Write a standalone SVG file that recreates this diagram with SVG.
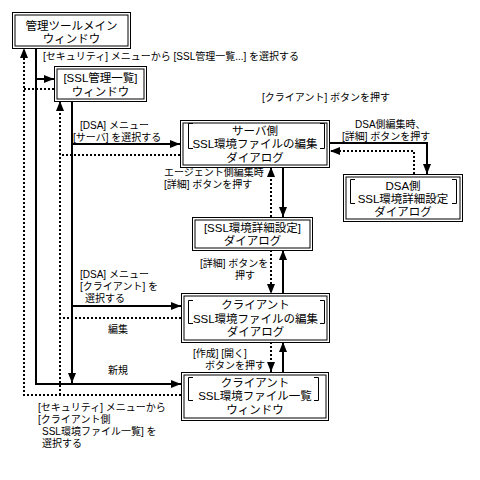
<svg xmlns="http://www.w3.org/2000/svg" width="480" height="480" viewBox="0 0 480 480">
<style>
.bx{fill:#fff;stroke:#000;stroke-width:1}
.bi{fill:none;stroke:#000;stroke-width:1}
.br{fill:none;stroke:#000;stroke-width:1}
.t{font-family:"Liberation Sans","Noto Sans CJK JP",sans-serif;font-size:11.5px;fill:#000;text-anchor:middle}
.l{font-family:"Liberation Sans","Noto Sans CJK JP",sans-serif;font-size:10px;fill:#000}
.s{fill:none;stroke:#000;stroke-width:2}
.d{fill:none;stroke:#000;stroke-width:2;stroke-dasharray:2 2}
</style>
<defs>
<marker id="ah" markerUnits="userSpaceOnUse" markerWidth="10" markerHeight="8" refX="10" refY="4" orient="auto">
<path d="M0,0 L10,4 L0,8 Z" fill="#000"/>
</marker>
</defs>
<rect width="480" height="480" fill="#fff"/>

<g id="connectors">
<path class="s" d="M36,48 V384 H181" marker-end="url(#ah)"/>
<path class="s" d="M36,79 H54" marker-end="url(#ah)"/>
<path class="d" d="M181,395 H24 V48" marker-end="url(#ah)"/>
<path class="d" d="M54,89 H24"/>
<path class="s" d="M72,101 V383" marker-end="url(#ah)"/>
<path class="s" d="M72,144 H180" marker-end="url(#ah)"/>
<path class="s" d="M72,306 H181" marker-end="url(#ah)"/>
<path class="d" d="M60,395 V101" marker-end="url(#ah)"/>
<path class="d" d="M180,155 H60"/>
<path class="d" d="M181,318 H60"/>
<path class="s" d="M283,167 V217" marker-end="url(#ah)"/>
<path class="d" d="M271,217 V167" marker-end="url(#ah)"/>
<path class="s" d="M283,294 V250" marker-end="url(#ah)"/>
<path class="d" d="M271,250 V294" marker-end="url(#ah)"/>
<path class="s" d="M283,372 V342" marker-end="url(#ah)"/>
<path class="d" d="M271,342 V372" marker-end="url(#ah)"/>
<path class="s" d="M330,143 H427 V174" marker-end="url(#ah)"/>
<path class="d" d="M414,174 V151 H330" marker-end="url(#ah)"/>
</g>

<g id="main">
<rect class="bx" x="12.5" y="12.5" width="118" height="36"/>
<rect class="bi" x="15" y="15" width="113" height="31"/>
<text class="t" x="71.5" y="30">管理ツールメイン</text>
<text class="t" x="71.5" y="43">ウィンドウ</text>
</g>

<g id="ssl-list">
<rect class="bx" x="54.5" y="66.5" width="92" height="35"/>
<rect class="bi" x="57" y="69" width="87" height="30"/>
<text class="t" x="100.5" y="82">[SSL管理一覧]</text>
<text class="t" x="100.5" y="96">ウィンドウ</text>
</g>

<g id="server-edit">
<rect class="bx" x="180.5" y="120.5" width="149" height="47"/>
<rect class="bi" x="183" y="123" width="144" height="42"/>
<path class="br" d="M193,123.5 H188.5 V148.5 H193 M320,123.5 H324.5 V148.5 H320"/>
<text class="t" x="255" y="135">サーバ側</text>
<text class="t" x="255" y="148">SSL環境ファイルの編集</text>
<text class="t" x="255" y="162">ダイアログ</text>
</g>

<g id="dsa-detail">
<rect class="bx" x="343.5" y="174.5" width="119" height="47"/>
<rect class="bi" x="346" y="177" width="114" height="42"/>
<path class="br" d="M355,179.5 H350.5 V203.5 H355 M452,179.5 H456.5 V203.5 H452"/>
<text class="t" x="403" y="190">DSA側</text>
<text class="t" x="403" y="203">SSL環境詳細設定</text>
<text class="t" x="403" y="216">ダイアログ</text>
</g>

<g id="ssl-detail">
<rect class="bx" x="192.5" y="217.5" width="120" height="33"/>
<rect class="bi" x="195" y="220" width="115" height="28"/>
<text class="t" x="252.5" y="232">[SSL環境詳細設定]</text>
<text class="t" x="252.5" y="245">ダイアログ</text>
</g>

<g id="client-edit">
<rect class="bx" x="181.5" y="293.5" width="148" height="49"/>
<rect class="bi" x="184" y="296" width="143" height="44"/>
<path class="br" d="M193,300.5 H188.5 V323.5 H193 M320,300.5 H324.5 V323.5 H320"/>
<text class="t" x="255.5" y="309">クライアント</text>
<text class="t" x="255.5" y="323">SSL環境ファイルの編集</text>
<text class="t" x="255.5" y="336">ダイアログ</text>
</g>

<g id="client-list">
<rect class="bx" x="181.5" y="372.5" width="147" height="48"/>
<rect class="bi" x="184" y="375" width="142" height="43"/>
<path class="br" d="M193,377.5 H188.5 V400.5 H193 M314,377.5 H318.5 V400.5 H314"/>
<text class="t" x="255" y="387">クライアント</text>
<text class="t" x="255" y="400">SSL環境ファイル一覧</text>
<text class="t" x="255" y="414">ウィンドウ</text>
</g>

<g id="labels">
<text class="l" x="43" y="60">[セキュリティ] メニューから [SSL管理一覧...] を選択する</text>
<text class="l" x="262" y="101">[クライアント] ボタンを押す</text>
<text class="l" x="80" y="129">[DSA] メニュー</text>
<text class="l" x="73" y="141">[サーバ] を選択する</text>
<text class="l" x="355" y="128">DSA側編集時、</text>
<text class="l" x="342" y="140">[詳細] ボタンを押す</text>
<text class="l" x="164" y="176">エージェント側編集時</text>
<text class="l" x="164" y="188">[詳細] ボタンを押す</text>
<text class="l" x="200" y="267">[詳細] ボタンを</text>
<text class="l" x="235" y="279">押す</text>
<text class="l" x="80" y="278">[DSA] メニュー</text>
<text class="l" x="80" y="290">[クライアント] を</text>
<text class="l" x="85" y="302">選択する</text>
<text class="l" x="108" y="333">編集</text>
<text class="l" x="193" y="357">[作成] [開く]</text>
<text class="l" x="205" y="369">ボタンを押す</text>
<text class="l" x="108" y="374">新規</text>
<text class="l" x="38" y="411">[セキュリティ] メニューから</text>
<text class="l" x="38" y="423">[クライアント側</text>
<text class="l" x="42" y="435">SSL環境ファイル一覧] を</text>
<text class="l" x="42" y="447">選択する</text>
</g>
</svg>
